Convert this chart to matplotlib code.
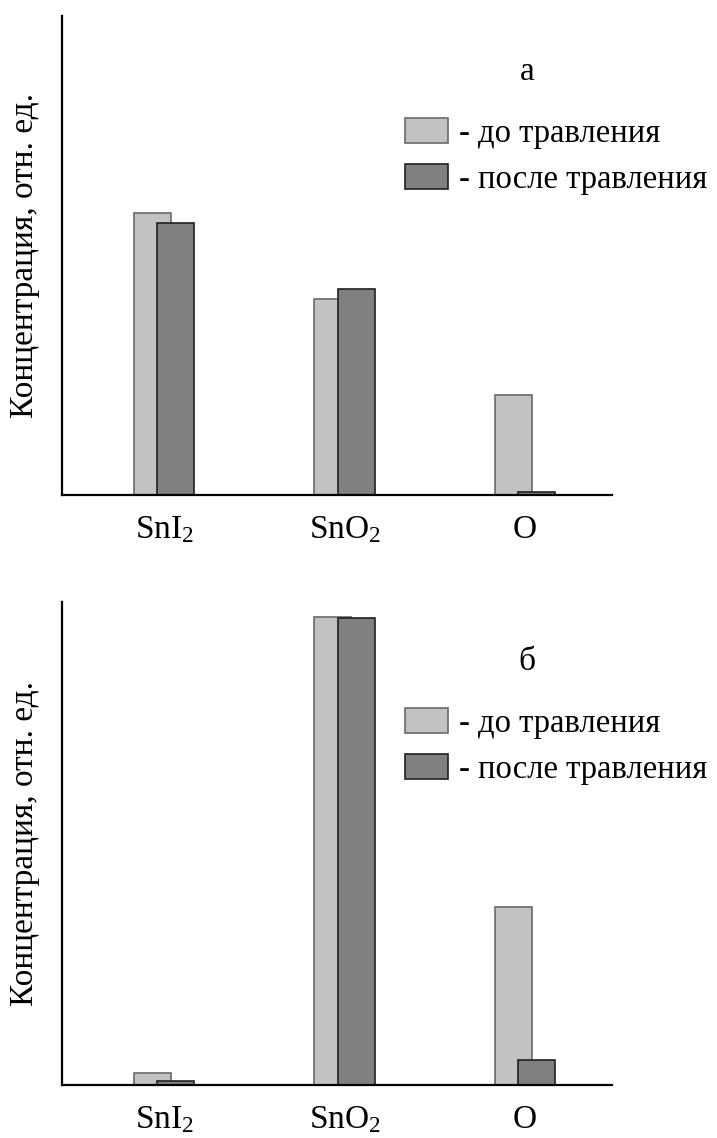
import matplotlib
matplotlib.use('Agg')
import matplotlib.pyplot as plt
from matplotlib.patches import Patch
import numpy as np

plt.rcParams['font.family'] = ['Liberation Serif', 'DejaVu Serif']
plt.rcParams['mathtext.fontset'] = 'custom'
plt.rcParams['mathtext.rm'] = 'Liberation Serif'
plt.rcParams['mathtext.it'] = 'Liberation Serif:italic'

# data (relative units)
categories = ['SnI$_2$', 'SnO$_2$', 'O']
before_a = [2.82, 1.96, 1.00]
after_a = [2.72, 2.06, 0.03]
before_b = [0.12, 4.68, 1.78]
after_b = [0.04, 4.67, 0.25]
legend_labels = ['- до травления', '- после травления']
panel_labels = ['а', 'б']
ylabel = 'Концентрация, отн. ед.'

light = '#c2c2c2'
dark = '#808080'
fs = 24

fig = plt.figure(figsize=(7.17, 11.38), dpi=100)
ax_a = fig.add_axes([62 / 717, 1 - 495 / 1138, 550 / 717, 479 / 1138])
ax_b = fig.add_axes([62 / 717, 1 - 1085 / 1138, 550 / 717, 483 / 1138])

x = np.arange(len(categories))
w = 0.205
off = 0.065

panels = [(ax_a, before_a, after_a, 4.79, panel_labels[0], 72),
          (ax_b, before_b, after_b, 4.83, panel_labels[1], 662)]

for ax, bef, aft, ymax, plab, ly in panels:
    ax.bar(x - off, bef, w, color=light, edgecolor='#6a6a6a', linewidth=1.2, zorder=2)
    ax.bar(x + off, aft, w, color=dark, edgecolor='#202020', linewidth=1.2, zorder=3)
    ax.set_xlim(-0.567, 2.483)
    ax.set_ylim(0, ymax)
    for s in ['top', 'right']:
        ax.spines[s].set_visible(False)
    for s in ['left', 'bottom']:
        ax.spines[s].set_linewidth(1.6)
        ax.spines[s].set_zorder(4)
    ax.set_xticks(x)
    ax.set_xticklabels(categories, fontsize=fs)
    ax.set_yticks([])
    ax.tick_params(axis='x', length=0, pad=14)
    ax.set_ylabel(ylabel, fontsize=fs, labelpad=16)
    fig.text(527 / 717, 1 - ly / 1138, plab, fontsize=fs, ha='center', va='center')
    handles = [Patch(facecolor=light, edgecolor='#6a6a6a', linewidth=1.2),
               Patch(facecolor=dark, edgecolor='#202020', linewidth=1.2)]
    ax.legend(handles, legend_labels, fontsize=23.5, frameon=False,
              loc='upper left', bbox_to_anchor=(405 / 717, 1 - (ly + 46) / 1138),
              bbox_transform=fig.transFigure, borderpad=0, borderaxespad=0,
              handlelength=1.33, handleheight=0.78, handletextpad=0.33,
              labelspacing=0.47)

fig.savefig('out.png', dpi=100)
